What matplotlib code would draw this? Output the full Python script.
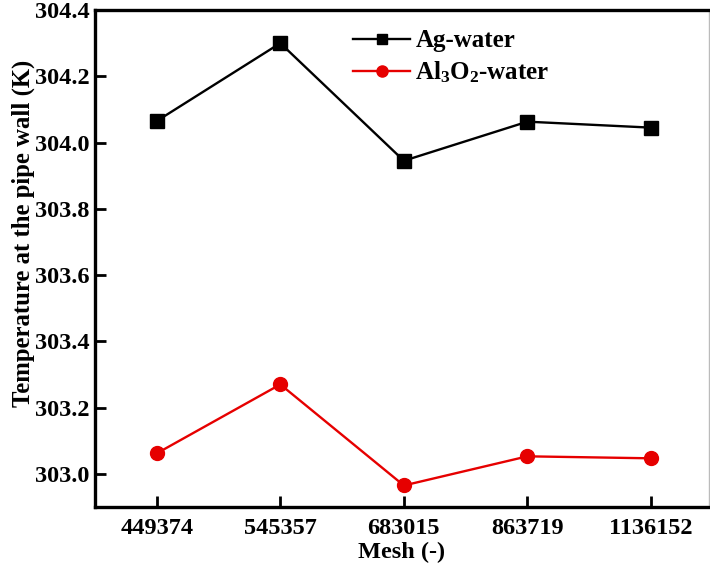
import matplotlib
matplotlib.use("Agg")
import matplotlib.pyplot as plt

plt.rcParams['font.family'] = ['Liberation Serif', 'DejaVu Serif']
plt.rcParams['font.weight'] = 'bold'
plt.rcParams['mathtext.fontset'] = 'custom'
plt.rcParams['mathtext.rm'] = 'Liberation Serif:bold'
plt.rcParams['mathtext.it'] = 'Liberation Serif:bold'
plt.rcParams['mathtext.bf'] = 'Liberation Serif:bold'
plt.rcParams['mathtext.default'] = 'rm'

# Mesh sizes (categorical x axis)
mesh_labels = ['449374', '545357', '683015', '863719', '1136152']
# Wall temperature (K) for each nanofluid
ag_water = [304.065, 304.300, 303.945, 304.063, 304.045]
al_water = [303.062, 303.270, 302.965, 303.053, 303.047]
y_ticks = [303.0, 303.2, 303.4, 303.6, 303.8, 304.0, 304.2, 304.4]

fig = plt.figure(figsize=(7.10, 5.72), dpi=100)
ax = fig.add_axes([0.1338, 0.1136, 0.8648, 0.8689])

x = list(range(len(mesh_labels)))
ax.plot(x, ag_water, color='black', lw=1.7, marker='s', ms=9.5,
        label='Ag-water')
ax.plot(x, al_water, color='#e60000', lw=1.7, marker='o', ms=10,
        label=r'Al$_3$O$_2$-water')

ax.set_xlim(-0.5, 4.47)
ax.set_ylim(302.9, 304.4)
ax.set_xticks(x)
ax.set_xticklabels(mesh_labels)
ax.set_yticks(y_ticks)
ax.set_yticklabels([f'{v:.1f}' for v in y_ticks])

ax.tick_params(axis='both', direction='in', length=8, width=2,
               labelsize=17.5, pad=4)
ax.tick_params(axis='x', pad=8)

for side in ['left', 'bottom', 'top']:
    ax.spines[side].set_linewidth(2.4)
ax.spines['right'].set_linewidth(1)
ax.spines['right'].set_color('#bbbbbb')

ax.set_xlabel('Mesh (-)', fontsize=17.5, fontweight='bold', labelpad=2)
ax.set_ylabel('Temperature at the pipe wall (K)', fontsize=17.8,
              fontweight='bold')
ax.yaxis.set_label_coords(-0.097, 0.550)

ax.legend(loc='upper left', bbox_to_anchor=(0.42, 0.961), frameon=False,
          fontsize=18, handlelength=2.3, handletextpad=0.2,
          labelspacing=0.3, borderaxespad=0, borderpad=0, markerscale=0.8)

fig.savefig('out.png', dpi=100)
